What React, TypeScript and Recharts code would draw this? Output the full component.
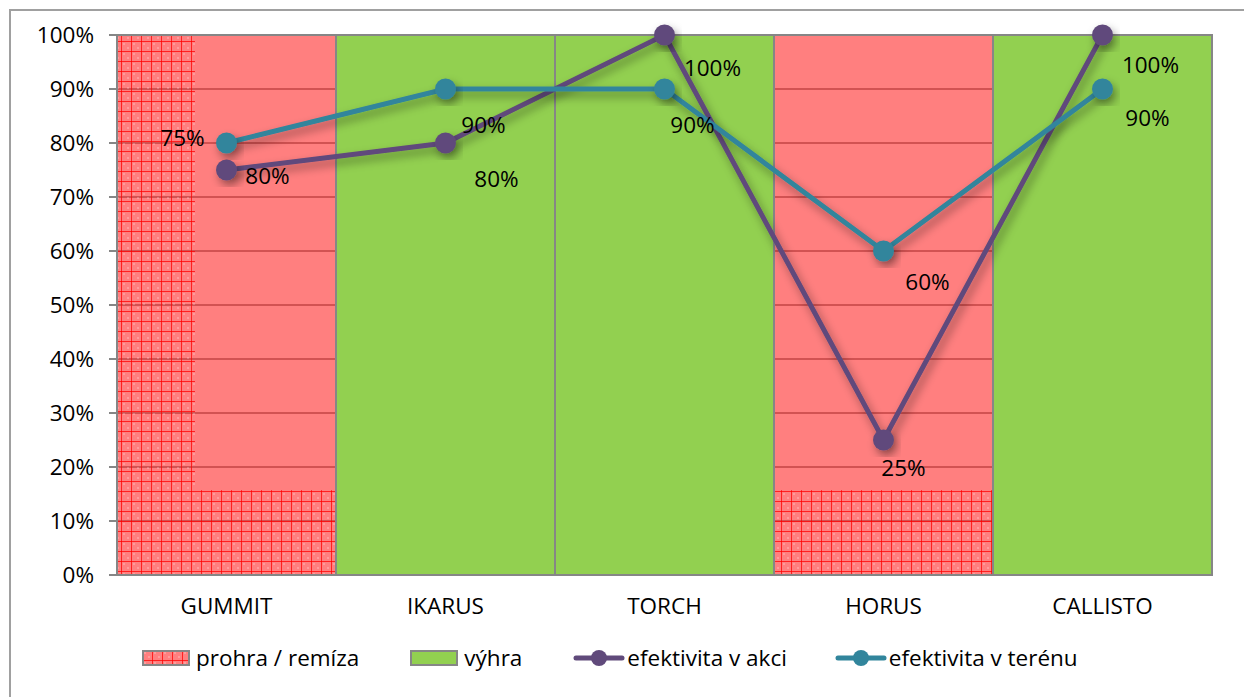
import React from 'react';
import {
  ComposedChart, Bar, Line, XAxis, YAxis, CartesianGrid, Legend, LabelList,
} from 'recharts';

const categories = ['GUMMIT', 'IKARUS', 'TORCH', 'HORUS', 'CALLISTO'];
const prohra = [100, null, null, 100, null];
const vyhra = [null, 100, 100, null, 100];
const efektivitaAkci = [75, 80, 100, 25, 100];
const efektivitaTerenu = [80, 90, 90, 60, 90];
const yTicks = [0, 10, 20, 30, 40, 50, 60, 70, 80, 90, 100];
const boundaryTicks = [0, 1, 2, 3, 4, 5];

// label offsets (style only): [dx, dy] relative to each point
const akciLabelOffsets = [[-44, -33], [51, 35], [48, 32], [20, 27], [48, 29]];
const terenuLabelOffsets = [[41, 32], [38, 35], [28, 35], [44, 30], [45, 28]];

const data = categories.map((c, i) => ({
  name: c,
  prohra: prohra[i],
  vyhra: vyhra[i],
  akci: efektivitaAkci[i],
  terenu: efektivitaTerenu[i],
}));

const FONT = "'Open Sans', sans-serif";
const AXIS = '#868686';
const RED = 'rgba(255,0,0,0.5)';
const GREEN = '#92d050';
const PURPLE = '#604a7b';
const TEAL = '#31859c';

const HatchBar = (props: any) => {
  const { x, y, width, height, index } = props;
  if (!height || height <= 0) return null;
  const hh = height * 0.157;
  const lw = index === 0 ? width * 0.356 : 0;
  return (
    <g>
      <rect x={x} y={y} width={width} height={height} fill={RED} />
      <rect x={x + lw} y={y + height - hh} width={width - lw} height={hh} fill="url(#hatch)" />
      {lw > 0 && <rect x={x} y={y} width={lw} height={height} fill="url(#hatch)" />}
      <rect x={x} y={y} width={width} height={height} fill="none" stroke={AXIS} strokeWidth={2} />
    </g>
  );
};

const GreenBar = (props: any) => {
  const { x, y, width, height } = props;
  if (!height || height <= 0) return null;
  return <rect x={x} y={y} width={width} height={height} fill={GREEN} stroke={AXIS} strokeWidth={2} />;
};

const makeLabel = (offsets: number[][]) => (p: any) => {
  const off = offsets[p.index] || [0, 0];
  return (
    <text
      x={p.x + off[0]}
      y={p.y + off[1]}
      textAnchor="middle"
      dominantBaseline="central"
      fontFamily={FONT}
      fontSize={22.5}
      fill="#000"
    >
      {`${p.value}%`}
    </text>
  );
};

const renderLegend = () => {
  const textStyle: React.CSSProperties = { fontFamily: FONT, fontSize: 22.5, color: '#000', lineHeight: '40px' };
  const lineSwatch = (color: string) => (
    <svg width={52} height={20} style={{ display: 'block' }}>
      <line x1={3} y1={10} x2={49} y2={10} stroke={color} strokeWidth={5} strokeLinecap="round" />
      <circle cx={26} cy={10} r={8} fill={color} />
    </svg>
  );
  return (
    <div style={{ display: 'flex', alignItems: 'center', height: 40, paddingLeft: 131 }}>
      <svg width={48} height={16} style={{ display: 'block', marginRight: 6 }}>
        <rect x={1} y={1} width={46} height={14} fill={RED} />
        <rect x={1} y={1} width={46} height={14} fill="url(#hatch)" stroke={AXIS} strokeWidth={2} />
      </svg>
      <span style={textStyle}>prohra / remíza</span>
      <svg width={48} height={16} style={{ display: 'block', marginLeft: 51, marginRight: 6 }}>
        <rect x={1} y={1} width={46} height={14} fill={GREEN} stroke={AXIS} strokeWidth={2} />
      </svg>
      <span style={textStyle}>výhra</span>
      <div style={{ marginLeft: 51, marginRight: 2 }}>{lineSwatch(PURPLE)}</div>
      <span style={textStyle}>efektivita v akci</span>
      <div style={{ marginLeft: 48, marginRight: 2 }}>{lineSwatch(TEAL)}</div>
      <span style={textStyle}>efektivita v terénu</span>
    </div>
  );
};

export default function App() {
  return (
    <div>
      <svg width={0} height={0} style={{ position: 'absolute' }}>
        <defs>
          <pattern id="hatch" width={10} height={10} patternUnits="userSpaceOnUse">
            <rect x={2} y={2} width={2} height={2} fill="rgba(255,255,255,0.22)" />
            <rect x={6} y={6} width={2} height={2} fill="rgba(255,255,255,0.22)" />
            <path d="M0 0.5 H10 M0.5 0 V10" stroke="rgba(255,0,0,0.75)" strokeWidth={1} />
          </pattern>
          <filter id="shadow" x="-30%" y="-30%" width="160%" height="160%">
            <feDropShadow dx={3} dy={5} stdDeviation={5} floodColor="#000" floodOpacity={0.4} />
          </filter>
        </defs>
      </svg>
      <div
        style={{
          position: 'absolute',
          left: 9,
          top: 9,
          borderLeft: `2px solid #a0a0a0`,
          borderTop: `2px solid #a0a0a0`,
          width: 1233,
          height: 686,
        }}
      >
        <ComposedChart
          width={1233}
          height={686}
          data={data}
          margin={{ top: 24, right: 32, left: 0, bottom: 0 }}
          barCategoryGap={0}
          barGap={0}
        >
          <CartesianGrid horizontal vertical={false} stroke={AXIS} strokeWidth={1.5} />
          <XAxis
            xAxisId="bounds"
            type="number"
            domain={[0, 5]}
            ticks={boundaryTicks}
            tick={false}
            tickSize={9}
            tickLine={{ stroke: AXIS, strokeWidth: 2 }}
            axisLine={false}
            height={0}
            allowDataOverflow
          />
          <XAxis
            dataKey="name"
            tickLine={false}
            tickSize={8}
            tickMargin={15}
            axisLine={{ stroke: AXIS, strokeWidth: 2 }}
            tick={{ fill: '#000', fontSize: 22.5, fontFamily: FONT }}
            height={82}
          />
          <YAxis
            width={106}
            domain={[0, 100]}
            ticks={yTicks}
            tickFormatter={(v: number) => `${v}%`}
            tickSize={8}
            tickMargin={15}
            tickLine={{ stroke: AXIS, strokeWidth: 2 }}
            axisLine={{ stroke: AXIS, strokeWidth: 2 }}
            tick={{ fill: '#000', fontSize: 22.5, fontFamily: FONT }}
            interval={0}
          />
          <Bar dataKey="prohra" name="prohra / remíza" stackId="bg" shape={HatchBar} isAnimationActive={false} />
          <Bar dataKey="vyhra" name="výhra" stackId="bg" shape={GreenBar} isAnimationActive={false} />
          <Line
            dataKey="akci"
            name="efektivita v akci"
            stroke={PURPLE}
            strokeWidth={5}
            filter="url(#shadow)"
            dot={{ r: 10.5, fill: PURPLE, stroke: PURPLE, strokeWidth: 0, filter: 'url(#shadow)' }}
            activeDot={false}
            isAnimationActive={false}
          >
            <LabelList dataKey="akci" content={makeLabel(akciLabelOffsets)} />
          </Line>
          <Line
            dataKey="terenu"
            name="efektivita v terénu"
            stroke={TEAL}
            strokeWidth={5}
            filter="url(#shadow)"
            dot={{ r: 10.5, fill: TEAL, stroke: TEAL, strokeWidth: 0, filter: 'url(#shadow)' }}
            activeDot={false}
            isAnimationActive={false}
          >
            <LabelList dataKey="terenu" content={makeLabel(terenuLabelOffsets)} />
          </Line>
          <Legend
            verticalAlign="bottom"
            content={renderLegend}
            wrapperStyle={{ top: 627, left: 0, width: 1233, height: 40, bottom: 'auto' }}
          />
        </ComposedChart>
      </div>
    </div>
  );
}
